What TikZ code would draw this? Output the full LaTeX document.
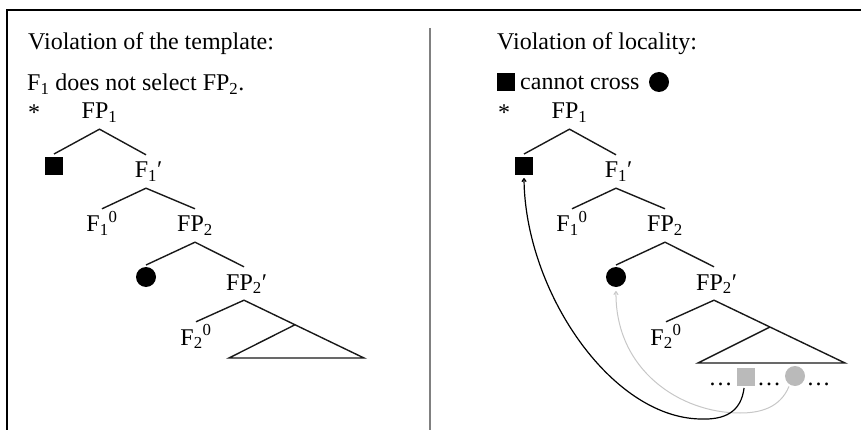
\documentclass[tikz,border=0pt]{standalone}
\usepackage{fontspec}
\setmainfont{Liberation Serif}
\usetikzlibrary{arrows.meta,calc}
\begin{document}
\begin{tikzpicture}[x=1pt,y=-1pt,
  fnt/.style={font=\fontsize{24}{28}\selectfont},
  lab/.style={fnt,anchor=base,inner sep=0pt,text height=23pt,text depth=10pt},
  txt/.style={fnt,anchor=base west,inner sep=0pt},
  branch/.style={line width=1.4pt,draw=black!90},
  bsq/.style={fill=black,minimum size=18pt,inner sep=0pt,outer sep=3pt},
  bci/.style={circle,fill=black,minimum size=20pt,inner sep=0pt,outer sep=2pt},
  gsqs/.style={fill=black!27,minimum size=18pt,inner sep=0pt,outer sep=2pt},
  gcis/.style={circle,fill=black!27,minimum size=20pt,inner sep=0pt,outer sep=2pt},
  movearrow/.style={line width=1.2pt,-{To[length=4pt,width=5pt]}},
  grayarrow/.style={line width=1pt,draw=black!22,-{To[length=4pt,width=5pt]},shorten >=2pt},
]
\useasboundingbox (0,0) rectangle (861,430);
% frame and divider
\draw[line width=2pt] (7,432) -- (7,10.5) -- (863,10.5);
\draw[line width=1.6pt,draw=black!50] (430,28) -- (430,432);

% ---------------- left panel ----------------
\node[txt] (lt1) at (28,50) {Violation of the template:};
\node[txt] (lt2) at (27,91) {F\textsubscript{1} does not select FP\textsubscript{2}.};
\node[txt] (lstar) at (28,121) {*};
\node[lab] (lFP1) at (99.5,119) {FP\textsubscript{1}};
\node[bsq] (lsq) at (54,166) {};
\node[lab] (lF1p) at (146,178) {F\textsubscript{1}\rlap{′}};
\node[lab] (lF10) at (102,232) {F\textsubscript{1}\textsuperscript{0}};
\node[lab] (lFP2) at (195,232) {FP\textsubscript{2}};
\node[bci] (lci) at (146,277) {};
\node[lab] (lFP2p) at (244,290) {FP\textsubscript{2}\rlap{′}};
\node[lab] (lF20) at (196,345) {F\textsubscript{2}\textsuperscript{0}};
\coordinate (ltR) at (364,358);
\coordinate (ltL) at (229,358);
\coordinate (ltT) at ($(lFP2p.south)!0.425!(ltR)$);
\draw[branch] (lsq.north) -- (lFP1.south) -- (lF1p.north);
\draw[branch] (lF10.north) -- (lF1p.south) -- (lFP2.north);
\draw[branch] (lci.north) -- (lFP2.south) -- (lFP2p.north);
\draw[branch] (lF20.north) -- (lFP2p.south) -- (ltR) -- (ltL) -- (ltT);

% ---------------- right panel ----------------
\node[txt] (rt1) at (497,50) {Violation of locality:};
\node[bsq,outer sep=0pt] (lgsq) at (506,82.5) {};
\node[txt] (rt2) at (520,90) {cannot cross};
\node[bci,outer sep=0pt] (lgci) at (659,82) {};
\node[txt] (rstar) at (498,121) {*};
\node[lab] (rFP1) at (569.5,119) {FP\textsubscript{1}};
\node[bsq] (rsq) at (524,166) {};
\node[lab] (rF1p) at (616,178) {F\textsubscript{1}\rlap{′}};
\node[lab] (rF10) at (572,232) {F\textsubscript{1}\textsuperscript{0}};
\node[lab] (rFP2) at (665,232) {FP\textsubscript{2}};
\node[bci] (rci) at (616,277) {};
\node[lab] (rFP2p) at (714,290) {FP\textsubscript{2}\rlap{′}};
\node[lab] (rF20) at (666,345) {F\textsubscript{2}\textsuperscript{0}};
\coordinate (rtR) at (845,363);
\coordinate (rtL) at (698,363);
\coordinate (rtT) at ($(rFP2p.south)!0.427!(rtR)$);
\draw[branch] (rsq.north) -- (rFP1.south) -- (rF1p.north);
\draw[branch] (rF10.north) -- (rF1p.south) -- (rFP2.north);
\draw[branch] (rci.north) -- (rFP2.south) -- (rFP2p.north);
\draw[branch] (rF20.north) -- (rFP2p.south) -- (rtR) -- (rtL) -- (rtT);

% string below the triangle
\node[fnt,anchor=base,inner sep=0pt] (d1) at (720.5,385) {\dots};
\node[gsqs] (gsq) at (746,377) {};
\node[fnt,anchor=base,inner sep=0pt] (d2) at (769,385) {\dots};
\node[gcis] (gci) at (795,376) {};
\node[fnt,anchor=base,inner sep=0pt] (d3) at (818.5,385) {\dots};

% movement arrows
\coordinate (bot2) at (740,413);
\draw[grayarrow] (gci.-120) .. controls (780,408) and (760,413) .. (bot2)
  .. controls (680,413) and (615,370) .. (rci.south);
\coordinate (bot1) at (700,419);
\draw[movearrow] (gsq.-100) .. controls (741,412) and (725,420) .. (bot1)
  .. controls (610,417) and (525,290) .. (rsq.south);
\end{tikzpicture}
\end{document}
